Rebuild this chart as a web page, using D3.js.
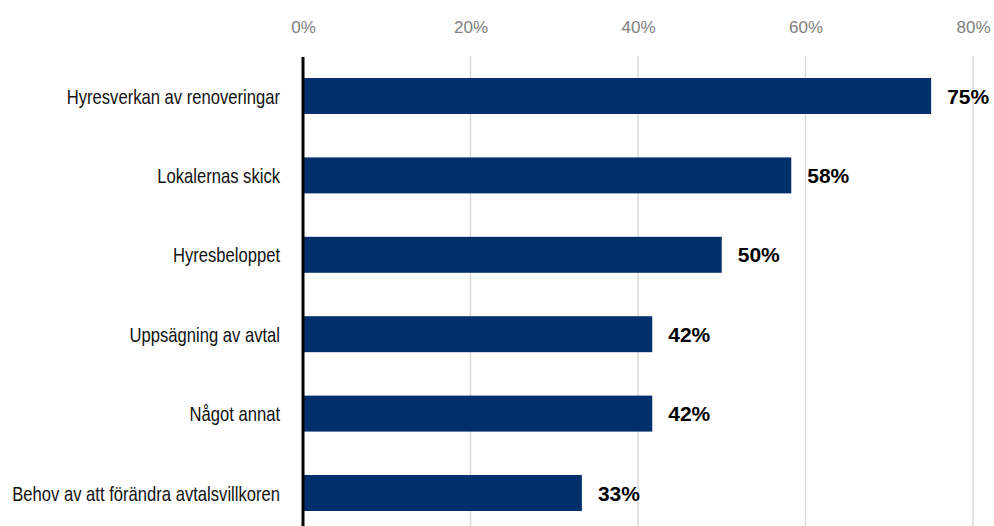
<!DOCTYPE html>
<html>
<head>
<meta charset="utf-8">
<script src="https://cdn.jsdelivr.net/npm/d3@7"></script>
<style>
	body { margin: 0; background: #fff; }
	text { font-family: "Liberation Sans", Arial, sans-serif; }
</style>
</head>
<body>
<div id="chart"></div>
<script>
// Chart data
const categories = [
	'Hyresverkan av renoveringar',
	'Lokalernas skick',
	'Hyresbeloppet',
	'Uppsägning av avtal',
	'Något annat',
	'Behov av att förändra avtalsvillkoren'
];
// Percent values (labels are rounded)
const values = [75, 58.3, 50, 41.7, 41.7, 33.3];
const ticks = [0, 20, 40, 60, 80];

const width = 994;
const height = 526;
const margin = { top: 56, left: 303, right: 21, bottom: 0 };

const svg = d3.select('#chart')
	.append('svg')
	.attr('width', width)
	.attr('height', height);

// Scales
const xScale = d3.scaleLinear()
	.domain([0, 80])
	.range([margin.left, width - margin.right]);

const yScale = d3.scaleBand()
	.domain(categories)
	.range([58, 531])
	.paddingInner(0.547)
	.paddingOuter(0.252);

// Gridlines
svg.append('g')
	.selectAll('line')
	.data(ticks.slice(1))
	.enter()
	.append('line')
	.attr('x1', d => xScale(d))
	.attr('x2', d => xScale(d))
	.attr('y1', margin.top)
	.attr('y2', height)
	.attr('stroke', '#d9d9d9')
	.attr('stroke-width', 1.5);

// Top axis labels
const xAxis = d3.axisTop(xScale)
	.tickValues(ticks)
	.tickFormat(d => d + '%')
	.tickSize(0)
	.tickPadding(0);

svg.append('g')
	.attr('transform', 'translate(0, 33)')
	.call(xAxis)
	.call(g => g.select('.domain').remove())
	.selectAll('text')
	.attr('fill', '#808080')
	.style('font-size', '17px')
	.style('font-family', '"Liberation Sans", Arial, sans-serif');

// Bars
svg.append('g')
	.selectAll('rect')
	.data(values)
	.enter()
	.append('rect')
	.attr('x', xScale(0))
	.attr('y', (d, i) => yScale(categories[i]))
	.attr('width', d => xScale(d) - xScale(0))
	.attr('height', yScale.bandwidth())
	.attr('fill', '#002f6c');

// Value labels
svg.append('g')
	.selectAll('text')
	.data(values)
	.enter()
	.append('text')
	.attr('x', d => xScale(d) + 16)
	.attr('y', (d, i) => yScale(categories[i]) + yScale.bandwidth() / 2)
	.attr('dy', '0.36em')
	.style('font-size', '21px')
	.style('font-weight', 'bold')
	.attr('fill', '#000')
	.text(d => Math.round(d) + '%');

// Category labels (condensed look: squeeze horizontally)
const catLabels = svg.append('g')
	.selectAll('text')
	.data(categories)
	.enter()
	.append('text')
	.attr('text-anchor', 'end')
	.attr('dy', '0.36em')
	.style('font-size', '21px')
	.attr('fill', '#111')
	.text(d => d);

let maxLen = 0;
catLabels.each(function() {
	maxLen = Math.max(maxLen, this.getComputedTextLength());
});
const squeeze = 268 / maxLen;
catLabels.attr('transform', d =>
	`translate(${margin.left - 23}, ${yScale(d) + yScale.bandwidth() / 2}) scale(${squeeze}, 1)`);

// Vertical axis line
svg.append('line')
	.attr('x1', xScale(0))
	.attr('x2', xScale(0))
	.attr('y1', margin.top + 1)
	.attr('y2', height)
	.attr('stroke', '#000')
	.attr('stroke-width', 3);
</script>
</body>
</html>
